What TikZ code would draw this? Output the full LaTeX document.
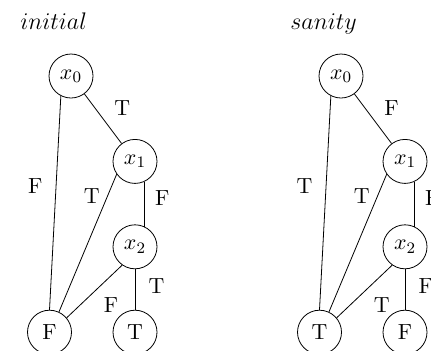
\documentclass[tikz,border=0pt,11pt]{standalone}
\usetikzlibrary{positioning}

\begin{document}
\begin{tikzpicture}[
    bnode/.style={circle, draw, minimum size=22pt, inner sep=0pt},
    title/.style={anchor=base west, font=\large},
    x=1pt, y=1pt
]
    \useasboundingbox (-24.75,-8.9) rectangle (190.75,166.1);

    % Titles
    \node[title] (tinit) at (-18.4,151.45) {$initial$};
    \node[title] (tsan) at (116.6,151.45) {$sanity$};

    % Nodes (initial)
    \node[bnode] (iF) at (0,0) {F};
    \node[bnode] (iT) at (42.75,0) {T};
    \node[bnode] (i2) at (42.75,42.7) {$x_2$};
    \node[bnode] (i1) at (42.75,85.4) {$x_1$};
    \node[bnode] (i0) at (10.75,128.1) {$x_0$};

    % Nodes (sanity)
    \node[bnode] (sT) at (135,0) {T};
    \node[bnode] (sF) at (177.75,0) {F};
    \node[bnode] (s2) at (177.75,42.7) {$x_2$};
    \node[bnode] (s1) at (177.75,85.4) {$x_1$};
    \node[bnode] (s0) at (145.75,128.1) {$x_0$};

    % Edges (initial)
    \draw (i0) -- node[pos=.6, above right] {T} (i1);
    \draw (i0.-117) -- node[pos=.42, left=3pt] {F} (iF.north);
    \draw (i1.-145) -- node[pos=.16, left] {T} (iF.65);
    \draw (i1.-65) -- node[pos=.37, right=1.5pt] {F} (i2.65);
    \draw (i2.-125) -- node[pos=.47, below right] {F} (iF.40);
    \draw (i2) -- node[pos=.42, right=3pt] {T} (iT);

    % Edges (sanity)
    \draw (s0) -- node[pos=.6, above right] {F} (s1);
    \draw (s0.-117) -- node[pos=.42, left=3pt] {T} (sT.north);
    \draw (s1.-145) -- node[pos=.16, left] {T} (sT.65);
    \draw (s1.-65) -- node[pos=.37, right=1.5pt] {F} (s2.65);
    \draw (s2.-125) -- node[pos=.47, below right] {T} (sT.40);
    \draw (s2) -- node[pos=.42, right=3pt] {F} (sF);
\end{tikzpicture}
\end{document}
